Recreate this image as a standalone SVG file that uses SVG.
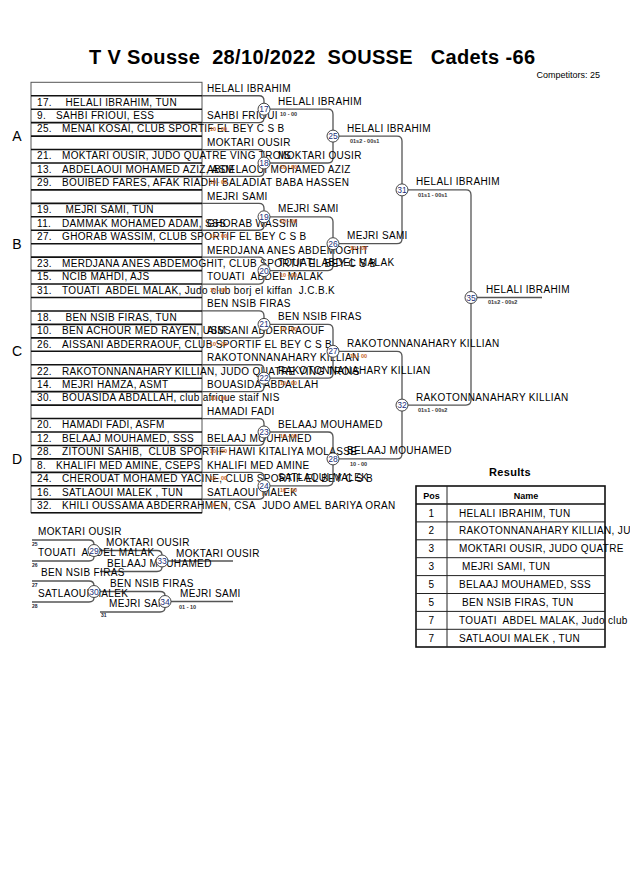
<svg xmlns="http://www.w3.org/2000/svg" width="630" height="891" viewBox="0 0 630 891">
<style>
.t{font-family:"Liberation Sans",Arial,sans-serif;font-size:10px;letter-spacing:0.35px;fill:#000}
.b{font-weight:bold}
.cn{font-family:"Liberation Sans",Arial,sans-serif;font-size:8.5px;text-anchor:middle;fill:#1c2f7a}
.sc{font-family:"Liberation Sans",Arial,sans-serif;font-size:5.5px;font-weight:bold;fill:#333}
.so{font-family:"Liberation Sans",Arial,sans-serif;font-size:5.5px;font-weight:bold;fill:#c8641e}
.sm{font-family:"Liberation Sans",Arial,sans-serif;font-size:5px;font-weight:bold;fill:#223}
.ln{fill:none;stroke:#555;stroke-width:1.3}
.c{fill:#fff;stroke:#444;stroke-width:1}
.rl{fill:none;stroke:#111;stroke-width:1.6}
.pl{font-family:"Liberation Sans",Arial,sans-serif;font-size:14px;text-anchor:middle;fill:#000}
</style>
<rect width="630" height="891" fill="#fff"/>
<g id="header">
<text class="t b" x="89" y="64" style="font-size:20px;letter-spacing:0.35px">T V Sousse&#160; 28/10/2022&#160; SOUSSE&#160;&#160; Cadets -66</text>
<text class="t" x="600" y="78" text-anchor="end" style="font-size:9px;letter-spacing:0">Competitors: 25</text>
</g>
<g id="pools">
<text class="pl" x="17" y="141">A</text>
<text class="pl" x="17" y="249">B</text>
<text class="pl" x="17" y="356">C</text>
<text class="pl" x="17" y="464">D</text>
</g>
<g id="draw-table">
<rect x="31" y="82.3" width="171" height="430.4" fill="#fff" stroke="#555" stroke-width="1"/>
<path class="rl" d="M31 95.75H202M31 109.2H202M31 122.65H202M31 136.1H202M31 149.55H202M31 163H202M31 176.45H202M31 189.9H202M31 203.35H202M31 216.8H202M31 230.25H202M31 243.7H202M31 257.15H202M31 270.6H202M31 284.05H202M31 297.5H202M31 310.95H202M31 324.4H202M31 337.85H202M31 351.3H202M31 364.75H202M31 378.2H202M31 391.65H202M31 405.1H202M31 418.55H202M31 432H202M31 445.45H202M31 458.9H202M31 472.35H202M31 485.8H202M31 499.25H202M31 512.7H202"/>
</g>
<g id="entries">
<text class="t" y="105.55"><tspan x="37">17.</tspan><tspan x="65.5">HELALI IBRAHIM, TUN</tspan></text>
<text class="t" y="119"><tspan x="37">9.</tspan><tspan x="56">SAHBI FRIOUI, ESS</tspan></text>
<text class="t" y="132.45"><tspan x="37">25.</tspan><tspan x="62">MENAI KOSAI, CLUB SPORTIF EL BEY C S B</tspan></text>
<text class="t" y="159.35"><tspan x="37">21.</tspan><tspan x="62">MOKTARI OUSIR, JUDO QUATRE VING TROIS</tspan></text>
<text class="t" y="172.8"><tspan x="37">13.</tspan><tspan x="62">ABDELAOUI MOHAMED AZIZ, ASM</tspan></text>
<text class="t" y="186.25"><tspan x="37">29.</tspan><tspan x="62">BOUIBED FARES, AFAK RIADHI BALADIAT BABA HASSEN</tspan></text>
<text class="t" y="213.15"><tspan x="37">19.</tspan><tspan x="65.5">MEJRI SAMI, TUN</tspan></text>
<text class="t" y="226.6"><tspan x="37">11.</tspan><tspan x="62">DAMMAK MOHAMED ADAM, SSS</tspan></text>
<text class="t" y="240.05"><tspan x="37">27.</tspan><tspan x="62">GHORAB WASSIM, CLUB SPORTIF EL BEY C S B</tspan></text>
<text class="t" y="266.95"><tspan x="37">23.</tspan><tspan x="62">MERDJANA ANES ABDEMOGHIT, CLUB SPORTIF EL BEY C S B</tspan></text>
<text class="t" y="280.4"><tspan x="37">15.</tspan><tspan x="62">NCIB MAHDI, AJS</tspan></text>
<text class="t" y="293.85"><tspan x="37">31.</tspan><tspan x="62">TOUATI&#160; ABDEL MALAK, Judo club borj el kiffan&#160; J.C.B.K</tspan></text>
<text class="t" y="320.75"><tspan x="37">18.</tspan><tspan x="65.5">BEN NSIB FIRAS, TUN</tspan></text>
<text class="t" y="334.2"><tspan x="37">10.</tspan><tspan x="62">BEN ACHOUR MED RAYEN, USM</tspan></text>
<text class="t" y="347.65"><tspan x="37">26.</tspan><tspan x="62">AISSANI ABDERRAOUF, CLUB SPORTIF EL BEY C S B</tspan></text>
<text class="t" y="374.55"><tspan x="37">22.</tspan><tspan x="62">RAKOTONNANAHARY KILLIAN, JUDO QUATRE VING TROIS</tspan></text>
<text class="t" y="388"><tspan x="37">14.</tspan><tspan x="62">MEJRI HAMZA, ASMT</tspan></text>
<text class="t" y="401.45"><tspan x="37">30.</tspan><tspan x="62">BOUASIDA ABDALLAH, club afrique staif NIS</tspan></text>
<text class="t" y="428.35"><tspan x="37">20.</tspan><tspan x="62">HAMADI FADI, ASFM</tspan></text>
<text class="t" y="441.8"><tspan x="37">12.</tspan><tspan x="62">BELAAJ MOUHAMED, SSS</tspan></text>
<text class="t" y="455.25"><tspan x="37">28.</tspan><tspan x="62">ZITOUNI SAHIB,&#160; CLUB SPORTIF HAWI KITALIYA MOLASSE</tspan></text>
<text class="t" y="468.7"><tspan x="37">8.</tspan><tspan x="56">KHALIFI MED AMINE, CSEPS</tspan></text>
<text class="t" y="482.15"><tspan x="37">24.</tspan><tspan x="62">CHEROUAT MOHAMED YACINE, CLUB SPORTIF EL BEY C S B</tspan></text>
<text class="t" y="495.6"><tspan x="37">16.</tspan><tspan x="62">SATLAOUI MALEK , TUN</tspan></text>
<text class="t" y="509.05"><tspan x="37">32.</tspan><tspan x="62">KHILI OUSSAMA ABDERRAHMEN, CSA&#160; JUDO AMEL BARIYA ORAN</tspan></text>
</g>
<g id="pair-winners">
<text class="t" x="207" y="92.1">HELALI IBRAHIM</text>
<text class="t" x="207" y="119">SAHBI FRIOUI</text>
<text class="t" x="207" y="145.9">MOKTARI OUSIR</text>
<text class="t" x="207" y="172.8">ABDELAOUI MOHAMED AZIZ</text>
<text class="t" x="207" y="199.7">MEJRI SAMI</text>
<text class="t" x="207" y="226.6">GHORAB WASSIM</text>
<text class="t" x="207" y="253.5">MERDJANA ANES ABDEMOGHIT</text>
<text class="t" x="207" y="280.4">TOUATI&#160; ABDEL MALAK</text>
<text class="t" x="207" y="307.3">BEN NSIB FIRAS</text>
<text class="t" x="207" y="334.2">AISSANI ABDERRAOUF</text>
<text class="t" x="207" y="361.1">RAKOTONNANAHARY KILLIAN</text>
<text class="t" x="207" y="388">BOUASIDA ABDALLAH</text>
<text class="t" x="207" y="414.9">HAMADI FADI</text>
<text class="t" x="207" y="441.8">BELAAJ MOUHAMED</text>
<text class="t" x="207" y="468.7">KHALIFI MED AMINE</text>
<text class="t" x="207" y="495.6">SATLAOUI MALEK</text>
<text class="so" x="210" y="130.5">10 - 00</text>
<text class="so" x="210" y="184.4">10 - 00</text>
<text class="so" x="210" y="238.2">10 - 00</text>
<text class="so" x="210" y="292">10 - 00</text>
<text class="so" x="210" y="345.8">10 - 00</text>
<text class="so" x="210" y="399.6">10 - 00</text>
<text class="so" x="210" y="453.4">10 - 00</text>
<text class="so" x="210" y="480.3">10 - 00</text>
<text class="so" x="210" y="507.2">10 - 00</text>
</g>
<g id="connectors">
<path class="ln" d="M202 95.75H259Q264 95.75 264 100.75V103.2M202 122.65H259Q264 122.65 264 117.65V115.2M202 149.55H259Q264 149.55 264 154.55V157M202 176.45H259Q264 176.45 264 171.45V169M202 203.35H259Q264 203.35 264 208.35V210.8M202 230.25H259Q264 230.25 264 225.25V222.8M202 257.15H259Q264 257.15 264 262.15V264.6M202 284.05H259Q264 284.05 264 279.05V276.6M202 310.95H259Q264 310.95 264 315.95V318.4M202 337.85H259Q264 337.85 264 332.85V330.4M202 364.75H259Q264 364.75 264 369.75V372.2M202 391.65H259Q264 391.65 264 386.65V384.2M202 418.55H259Q264 418.55 264 423.55V426M202 445.45H259Q264 445.45 264 440.45V438M202 472.35H259Q264 472.35 264 477.35V479.8M202 499.25H259Q264 499.25 264 494.25V491.8"/>
<path class="ln" d="M270 109.2H328Q333 109.2 333 114.2V130.1M270 163H328Q333 163 333 158V142.1M270 216.8H328Q333 216.8 333 221.8V237.7M270 270.6H328Q333 270.6 333 265.6V249.7M270 324.4H328Q333 324.4 333 329.4V345.3M270 378.2H328Q333 378.2 333 373.2V357.3M270 432H328Q333 432 333 437V452.9M270 485.8H328Q333 485.8 333 480.8V464.9"/>
<path class="ln" d="M339 136.1H397Q402 136.1 402 141.1V183.9M339 243.7H397Q402 243.7 402 238.7V195.9M339 351.3H397Q402 351.3 402 356.3V399.1M339 458.9H397Q402 458.9 402 453.9V411.1"/>
<path class="ln" d="M408 189.9H466Q471 189.9 471 194.9V291.5M408 405.1H466Q471 405.1 471 400.1V303.5M477 297.5H542"/>
<path class="ln" d="M32 540H89Q94 540 94 544.5M32 561H89Q94 561 94 556.5M32 581H89Q94 581 94 585.5M32 602H89Q94 602 94 597.5M100 550.5H157Q162 550.5 162 555M100 571.5H157Q162 571.5 162 567M168 561H233M100 591.5H160Q165 591.5 165 595.5M100 612H160Q165 612 165 607.5M171 601.5H233"/>
</g>
<g id="m17"><circle class="c" cx="264" cy="109.2" r="6"/><text class="cn" x="264" y="112.2">17</text><text class="t" x="278" y="104.7">HELALI IBRAHIM</text><text class="sc" x="280" y="115.5">10 - 00</text></g>
<g id="m18"><circle class="c" cx="264" cy="163" r="6"/><text class="cn" x="264" y="166">18</text><text class="t" x="278" y="158.5">MOKTARI OUSIR</text><text class="so" x="280" y="169.3">10 - 00</text></g>
<g id="m19"><circle class="c" cx="264" cy="216.8" r="6"/><text class="cn" x="264" y="219.8">19</text><text class="t" x="278" y="212.3">MEJRI SAMI</text><text class="so" x="280" y="223.1">10 - 00</text></g>
<g id="m20"><circle class="c" cx="264" cy="270.6" r="6"/><text class="cn" x="264" y="273.6">20</text><text class="t" x="278" y="266.1">TOUATI&#160; ABDEL MALAK</text><text class="so" x="280" y="276.9">10 - 00</text></g>
<g id="m21"><circle class="c" cx="264" cy="324.4" r="6"/><text class="cn" x="264" y="327.4">21</text><text class="t" x="278" y="319.9">BEN NSIB FIRAS</text><text class="so" x="280" y="330.7">10 - 00</text></g>
<g id="m22"><circle class="c" cx="264" cy="378.2" r="6"/><text class="cn" x="264" y="381.2">22</text><text class="t" x="278" y="373.7">RAKOTONNANAHARY KILLIAN</text><text class="so" x="280" y="384.5">10 - 00</text></g>
<g id="m23"><circle class="c" cx="264" cy="432" r="6"/><text class="cn" x="264" y="435">23</text><text class="t" x="278" y="427.5">BELAAJ MOUHAMED</text><text class="so" x="280" y="438.3">10 - 00</text></g>
<g id="m24"><circle class="c" cx="264" cy="485.8" r="6"/><text class="cn" x="264" y="488.8">24</text><text class="t" x="278" y="481.3">SATLAOUI MALEK</text><text class="so" x="280" y="492.1">10 - 00</text></g>
<g id="m25"><circle class="c" cx="333" cy="136.1" r="6"/><text class="cn" x="333" y="139.1">25</text><text class="t" x="347" y="131.6">HELALI IBRAHIM</text><text class="sc" x="350" y="142.5">01s2 - 00s1</text></g>
<g id="m26"><circle class="c" cx="333" cy="243.7" r="6"/><text class="cn" x="333" y="246.7">26</text><text class="t" x="347" y="239.2">MEJRI SAMI</text><text class="so" x="350" y="250.1">10 - 00</text></g>
<g id="m27"><circle class="c" cx="333" cy="351.3" r="6"/><text class="cn" x="333" y="354.3">27</text><text class="t" x="347" y="346.8">RAKOTONNANAHARY KILLIAN</text><text class="so" x="350" y="357.7">10 - 00</text></g>
<g id="m28"><circle class="c" cx="333" cy="458.9" r="6"/><text class="cn" x="333" y="461.9">28</text><text class="t" x="347" y="454.4">BELAAJ MOUHAMED</text><text class="sc" x="350" y="465.5">10 - 00</text></g>
<g id="m31"><circle class="c" cx="402" cy="189.9" r="6"/><text class="cn" x="402" y="192.9">31</text><text class="t" x="416" y="185.4">HELALI IBRAHIM</text><text class="sc" x="418" y="196.5">01s1 - 00s1</text></g>
<g id="m32"><circle class="c" cx="402" cy="405.1" r="6"/><text class="cn" x="402" y="408.1">32</text><text class="t" x="416" y="400.6">RAKOTONNANAHARY KILLIAN</text><text class="sc" x="418" y="411.5">01s1 - 00s2</text></g>
<g id="m35"><circle class="c" cx="471" cy="297.5" r="6"/><text class="cn" x="471" y="300.5">35</text><text class="t" x="486" y="293">HELALI IBRAHIM</text><text class="sc" x="488" y="304">01s2 - 00s2</text></g>
<g id="repechage">
<text class="t" x="38" y="535">MOKTARI OUSIR</text>
<text class="sm" x="32" y="545.5">25</text>
<text class="t" x="38" y="556">TOUATI&#160; ABDEL MALAK</text>
<text class="sm" x="32" y="566.5">26</text>
<text class="t" x="41" y="576">BEN NSIB FIRAS</text>
<text class="sm" x="32" y="586.5">27</text>
<text class="t" x="38" y="597">SATLAOUI MALEK</text>
<text class="sm" x="32" y="607.5">28</text>
<text class="t" x="107" y="567">BELAAJ MOUHAMED</text>
<text class="t" x="109" y="607">MEJRI SAMI</text>
<text class="sm" x="101" y="617">31</text>
</g>
<g id="m29"><circle class="c" cx="94" cy="550.5" r="6"/><text class="cn" x="94" y="553.5">29</text><text class="t" x="106" y="546">MOKTARI OUSIR</text></g>
<g id="m30"><circle class="c" cx="94" cy="591.5" r="6"/><text class="cn" x="94" y="594.5">30</text><text class="t" x="110" y="587">BEN NSIB FIRAS</text></g>
<g id="m33"><circle class="c" cx="162" cy="561" r="6"/><text class="cn" x="162" y="564">33</text><text class="t" x="176" y="556.5">MOKTARI OUSIR</text></g>
<g id="m34"><circle class="c" cx="165" cy="601.5" r="6"/><text class="cn" x="165" y="604.5">34</text><text class="t" x="180" y="597">MEJRI SAMI</text><text class="sc" x="179" y="608.5">01 - 10</text></g>
<g id="results">
<text class="t b" x="510" y="476" text-anchor="middle" style="font-size:11px">Results</text>
<rect x="416" y="486" width="189" height="161" fill="#fff" stroke="#111" stroke-width="1.6"/>
<path d="M416 504H605" stroke="#111" stroke-width="1.6"/>
<path d="M416 521.9H605M416 539.8H605M416 557.7H605M416 575.6H605M416 593.5H605M416 611.4H605M416 629.3H605M447 486V647" stroke="#222" stroke-width="1"/>
<text class="t b" x="431.5" y="498.5" text-anchor="middle" style="font-size:9px;letter-spacing:0">Pos</text>
<text class="t b" x="526" y="498.5" text-anchor="middle" style="font-size:9px;letter-spacing:0">Name</text>
<text class="t" x="431.5" y="516.5" text-anchor="middle">1</text>
<text class="t" x="459" y="516.5">HELALI IBRAHIM, TUN</text>
<text class="t" x="431.5" y="534.4" text-anchor="middle">2</text>
<text class="t" x="459" y="534.4">RAKOTONNANAHARY KILLIAN, JU</text>
<text class="t" x="431.5" y="552.3" text-anchor="middle">3</text>
<text class="t" x="459" y="552.3">MOKTARI OUSIR, JUDO QUATRE</text>
<text class="t" x="431.5" y="570.2" text-anchor="middle">3</text>
<text class="t" x="462" y="570.2">MEJRI SAMI, TUN</text>
<text class="t" x="431.5" y="588.1" text-anchor="middle">5</text>
<text class="t" x="459" y="588.1">BELAAJ MOUHAMED, SSS</text>
<text class="t" x="431.5" y="606" text-anchor="middle">5</text>
<text class="t" x="462" y="606">BEN NSIB FIRAS, TUN</text>
<text class="t" x="431.5" y="623.9" text-anchor="middle">7</text>
<text class="t" x="459" y="623.9">TOUATI&#160; ABDEL MALAK, Judo club</text>
<text class="t" x="431.5" y="641.8" text-anchor="middle">7</text>
<text class="t" x="459" y="641.8">SATLAOUI MALEK , TUN</text>
</g>
</svg>
